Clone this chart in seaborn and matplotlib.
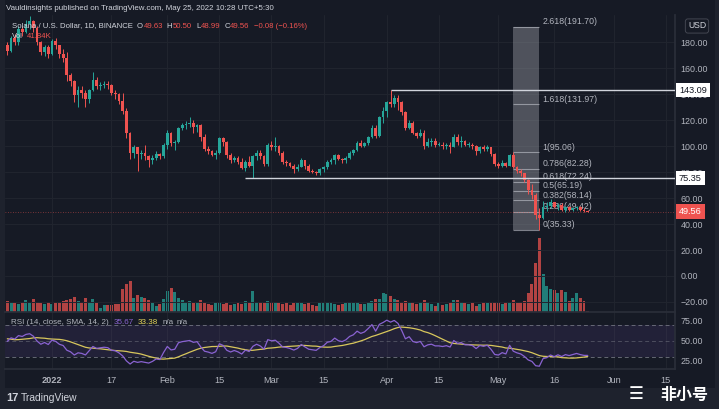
import matplotlib
matplotlib.use("Agg")
import matplotlib.pyplot as plt
import matplotlib.transforms as mtransforms
import numpy as np
import pandas as pd
import seaborn as sns

W, H = 719, 409

# ---- SOL/USD daily candles (Binance) ----
dates = pd.date_range("2021-12-20", "2022-05-25", freq="D")

# closes before the visible window, only used to warm up the RSI
warmup_closes = [219, 229, 215, 217, 195, 197, 205, 213, 209, 232,
                 229, 219, 206, 198, 196, 194, 197, 183, 172, 180,
                 176, 157, 163, 176, 176, 184, 187, 178]

close_dec = [173, 183, 180, 190, 188, 194, 196, 191, 180, 172, 176, 171]
high_dec = [180, 185, 186, 192, 192, 197, 200, 197, 192, 181, 178, 178]
low_dec = [170, 172, 178, 178, 185, 187, 190, 188, 178, 170, 169, 168]

close_jan = [181, 178, 171, 168, 155, 150, 139, 143, 141, 136,
             143, 151, 146, 147, 148, 147, 141, 140, 135, 127,
             110, 95, 99, 94, 95, 92, 89, 91, 94, 92, 101]
high_jan = [182, 183, 178, 175, 172, 156, 151, 146, 146, 143,
            144, 157, 153, 149, 150, 150, 148, 143, 141, 141,
            129, 111, 101, 99, 97, 101, 93, 93, 96, 95, 102]
low_jan = [170, 175, 168, 165, 150, 146, 134, 130, 137, 130,
           133, 142, 144, 143, 145, 144, 139, 136, 132, 125,
           106, 90, 91, 81, 90, 89, 84, 86, 89, 90, 91]

close_feb = [110, 102, 103, 114, 116, 117, 118, 115, 116, 107,
             98, 96, 93, 95, 106, 103, 93, 89, 91, 88,
             83, 88, 85, 92, 95, 92, 86, 101]
high_feb = [112, 111, 105, 115, 118, 119, 122, 120, 117, 117,
            109, 100, 97, 97, 107, 107, 104, 95, 92, 92,
            91, 89, 92, 93, 97, 97, 93, 102]
low_feb = [98, 100, 97, 102, 112, 113, 115, 110, 111, 104,
           96, 94, 92, 90, 94, 100, 91, 87, 88, 86,
           82, 81, 84, 75.4, 89, 90, 85, 85]

close_mar = [99, 100, 95, 88, 87, 85, 82, 84, 89, 85,
             81, 80, 79, 82, 84, 88, 89, 93, 90, 89,
             91, 95, 97, 102, 100, 102, 107, 114, 108, 122, 127]
high_mar = [104, 107, 101, 96, 89, 88, 86, 86, 91, 89,
            86, 82, 81, 83, 85, 89, 91, 94, 94, 91,
            92, 96, 98, 104, 105, 103, 108, 116, 116, 123, 130]
low_mar = [97, 96, 93, 86, 85, 84, 79, 81, 84, 82,
           80, 79, 78, 78, 80, 82, 86, 86, 89, 87,
           87, 90, 93, 96, 99, 99, 101, 106, 106, 107, 118]

close_apr = [134, 132, 137, 134, 126, 114, 118, 110, 108, 110,
             100, 103, 104, 101, 101, 100, 101, 99, 107, 103,
             104, 101, 101, 100, 96, 99, 98, 99, 94, 86]
high_apr = [135, 143.09, 139, 139, 135, 127, 120, 119, 111, 113,
            112, 106, 106, 106, 103, 103, 102, 103, 109, 109,
            108, 105, 103, 102, 101, 100, 101, 101, 99, 95]
low_apr = [122, 130, 130, 128, 124, 112, 113, 109, 106, 107,
           98, 99, 100, 99, 100, 98, 98, 95, 99, 101,
           99, 100, 99, 98, 93, 95, 96, 96, 92, 85]

close_may = [85, 87, 85, 93, 84, 81, 79, 74, 66, 62,
             47, 45, 53, 54, 57, 53, 55, 51, 53, 51,
             52, 53, 51, 49.63, 49.56]
high_may = [88, 89, 88, 94, 95.06, 85, 82, 79, 75, 71,
            64, 52, 58, 57, 59, 57, 56, 56, 54, 54,
            53, 54, 54, 52, 50.50]
low_may = [83, 84, 84, 85, 83, 79, 77, 72, 63, 59,
           44, 35.33, 44, 50, 52, 52, 51, 50, 49, 50,
           50, 51, 50, 49, 48.99]

# volume in thousands of SOL
vol_dec = [330, 270, 270, 240, 300, 360, 270, 390, 300, 270, 240, 300]
vol_jan = [240, 270, 300, 330, 360, 390, 450, 330, 300, 420,
           300, 390, 270, 120, 210, 210, 210, 240, 240, 690,
           840, 930, 420, 510, 450, 420, 360, 270, 180, 240, 390]
vol_feb = [630, 720, 600, 420, 360, 300, 330, 270, 300, 360,
           270, 240, 210, 270, 300, 240, 270, 210, 240, 270,
           240, 330, 300, 630, 300, 300, 270, 330]
vol_mar = [300, 300, 270, 240, 270, 210, 270, 300, 270, 240,
           270, 210, 180, 270, 270, 300, 270, 240, 210, 240,
           270, 300, 270, 300, 240, 240, 300, 330, 390, 390, 570]
vol_apr = [540, 480, 390, 360, 300, 330, 270, 300, 240, 270,
           360, 300, 240, 180, 270, 210, 240, 270, 360, 360,
           300, 270, 240, 270, 180, 240, 300, 270, 270, 300]
vol_may = [270, 240, 300, 300, 360, 270, 300, 330, 570, 840,
           1470, 2220, 1140, 780, 690, 660, 570, 660, 600, 330,
           420, 570, 420, 330, 41.84]

# Fibonacci extension drawn from the May 5 high to the May 12 low
fib_ratio_labels = ["0", "0.236", "0.382", "0.5", "0.618", "0.786", "1", "1.618", "2.618"]
fib_prices = [35.33, 49.42, 58.14, 65.19, 72.24, 82.28, 95.06, 131.97, 191.70]
fib_start, fib_end = pd.Timestamp("2022-05-05"), pd.Timestamp("2022-05-12")

level_prices = [143.09, 75.35]
level_starts = [pd.Timestamp("2022-04-02"), pd.Timestamp("2022-02-22")]
last_price = 49.56

price_ticks = [180, 160, 140, 120, 100, 80, 60, 40, 20, 0, -20]
rsi_ticks = [75, 50, 25]
x_tick_dates = pd.to_datetime(["2022-01-01", "2022-01-17", "2022-02-01", "2022-02-15",
                               "2022-03-01", "2022-03-15", "2022-04-01", "2022-04-15",
                               "2022-05-01", "2022-05-16", "2022-06-01", "2022-06-15"])
x_tick_labels = ["2022", "17", "Feb", "15", "Mar", "15", "Apr", "15", "May", "16", "Jun", "15"]

# ---- assemble ----
closes = np.array(close_dec + close_jan + close_feb + close_mar + close_apr + close_may, float)
highs = np.array(high_dec + high_jan + high_feb + high_mar + high_apr + high_may, float)
lows = np.array(low_dec + low_jan + low_feb + low_mar + low_apr + low_may, float)
volume = np.array(vol_dec + vol_jan + vol_feb + vol_mar + vol_apr + vol_may, float)
opens = np.array([warmup_closes[-1]] + list(closes[:-1]))  # crypto: open = prior close

all_closes = pd.Series(warmup_closes + list(closes))
delta = all_closes.diff()
gain = delta.clip(lower=0).ewm(alpha=1 / 14, adjust=False).mean()
loss = (-delta.clip(upper=0)).ewm(alpha=1 / 14, adjust=False).mean()
rsi = 100 - 100 / (1 + gain / loss)
rsi_sma = rsi.rolling(14).mean()
n_warm = len(warmup_closes)
rsi_df = pd.DataFrame({"date": dates, "rsi": rsi.values[n_warm:], "sma": rsi_sma.values[n_warm:]})

UP, DOWN = "#26a69a", "#ef5350"
BG, FRAME = "#161a25", "#1e222d"
TXT = "#b2b5be"
LIGHT = "#d1d4dc"
GRID = "#21252f"

sns.set_theme(style="dark", rc={"axes.facecolor": BG, "figure.facecolor": FRAME,
                                "text.color": TXT, "xtick.color": TXT, "ytick.color": TXT,
                                "axes.edgecolor": "#2a2e39"})
plt.rcParams["font.family"] = ["Liberation Sans", "DejaVu Sans"]

fig = plt.figure(figsize=(W / 100, H / 100), dpi=100)


def px(x, y):
    return x / W, 1 - y / H


def rect(x0, y0, x1, y1):
    return [x0 / W, 1 - y1 / H, (x1 - x0) / W, (y1 - y0) / H]


def text_run(pieces, x0, y, size):
    # lay out coloured text pieces one after another, like the TradingView legends
    renderer = fig.canvas.get_renderer()
    x = x0
    for t, c, gap in pieces:
        txt = fig.text(*px(x, y), t, fontsize=size, color=c, va="center", zorder=20)
        x += txt.get_window_extent(renderer).width + gap


bg = fig.add_axes(rect(5, 0, 715, 388))
bg.set_zorder(-10)
bg.set_facecolor(BG)
bg.set_xticks([])
bg.set_yticks([])
for s in bg.spines.values():
    s.set_visible(False)

ax = fig.add_axes(rect(5, 15, 675, 312))
ax_rsi = fig.add_axes(rect(5, 312, 675, 369), sharex=ax)

xlim = (pd.Timestamp("2021-12-19 09:00"), pd.Timestamp("2022-06-17 11:00"))

# volume overlay
ax_vol = ax.twinx()
ax_vol.set_zorder(ax.get_zorder() - 1)
ax.patch.set_visible(False)
ax_vol.patch.set_visible(False)
up = closes >= opens
colors = np.where(up, UP, DOWN)
ax_vol.bar(dates, volume, width=0.8, color=colors, alpha=0.72, linewidth=0)
ax_vol.set_ylim(0, volume.max() * 4.0)
ax_vol.set_yticks([])
ax_vol.grid(False)
for s in ax_vol.spines.values():
    s.set_visible(False)

# grid
ax.set_xticks(x_tick_dates)
ax.set_yticks(price_ticks)
ax.grid(True, color=GRID, lw=0.7)
ax.tick_params(axis="x", labelbottom=False, length=0)
ax.yaxis.tick_right()
ax.tick_params(axis="y", length=0, pad=4, labelsize=6.4, labelcolor=TXT)
ax.set_yticklabels([f"{v:.2f}".replace("-", "\u2212") for v in price_ticks])
ax.set_ylim(-27.7, 200.8)
ax.set_xlim(*xlim)

# fib tool
ax.fill_between([fib_start, fib_end], fib_prices[0], fib_prices[-1],
                color="#9598a1", alpha=0.45, lw=0, zorder=1)
ax.hlines(fib_prices, fib_start, fib_end, colors="#c3c6ce", lw=0.8, alpha=0.6, zorder=2)
for lab, p in zip(fib_ratio_labels, fib_prices):
    ax.text(fib_end + pd.Timedelta(hours=22), p + 0.6, f"{lab}({p:.2f})", fontsize=6.3,
            color=TXT, va="bottom", ha="left", zorder=2)

# horizontal levels + current price line
for p, start in zip(level_prices, level_starts):
    ax.hlines(p, start, xlim[1], colors=LIGHT, lw=1.0, zorder=5)
ax.axhline(last_price, color="#ef5350", ls=(0, (1, 2)), lw=0.6, alpha=0.6, zorder=2)

# candles
ax.vlines(dates, lows, highs, colors=colors, lw=0.7, zorder=3)
body = np.maximum(np.abs(closes - opens), 0.5)
ax.bar(dates, body, bottom=np.minimum(opens, closes), width=0.75, color=colors,
       linewidth=0, zorder=4)

ax.spines[["top", "left", "bottom"]].set_visible(False)
ax.spines["right"].set_color("#2a2e39")

# axis price boxes (they cover the nearby tick labels, as in TradingView)
blend = mtransforms.blended_transform_factory(ax.transAxes, ax.transData)
for p in level_prices:
    ax.text(1.0 + 4 / 670, p, f"{p:.2f}", transform=blend, ha="left", va="center",
            fontsize=6.6, color="#131722", zorder=10, clip_on=False,
            bbox=dict(boxstyle="square,pad=0.3", fc="white", ec="none"))
ax.text(1.0 + 4 / 670, last_price, f"{last_price:.2f}", transform=blend, ha="left",
        va="center", fontsize=6.6, color="white", zorder=10, clip_on=False,
        bbox=dict(boxstyle="square,pad=0.3", fc="#ef5350", ec="none"))
fig.text(*px(697, 26), "USD", fontsize=6.2, color=LIGHT, ha="center", va="center",
         bbox=dict(boxstyle="round,pad=0.3,rounding_size=0.3", fc=BG, ec="#434651", lw=0.7))

# RSI pane
ax_rsi.axhspan(30, 70, color="#7e57c2", alpha=0.12, lw=0)
for lvl, a in zip([70, 50, 30], [0.8, 0.5, 0.8]):
    ax_rsi.axhline(lvl, color="#787b86", ls=(0, (4, 3)), lw=0.7, alpha=a)
sns.lineplot(data=rsi_df, x="date", y="sma", ax=ax_rsi, color="#d8c75c", lw=0.9)
sns.lineplot(data=rsi_df, x="date", y="rsi", ax=ax_rsi, color="#8a63d2", lw=0.9)
ax_rsi.set_ylim(15, 86.25)
ax_rsi.set_xlim(*xlim)
ax_rsi.set_xlabel("")
ax_rsi.set_ylabel("")
ax_rsi.yaxis.tick_right()
ax_rsi.set_yticks(rsi_ticks)
ax_rsi.set_yticklabels([f"{v:.2f}" for v in rsi_ticks])
ax_rsi.tick_params(axis="y", length=0, pad=4, labelsize=6.4, labelcolor=TXT)
ax_rsi.set_xticks(x_tick_dates)
ax_rsi.set_xticklabels(x_tick_labels)
ax_rsi.tick_params(axis="x", length=0, pad=5, labelsize=6.6, labelcolor=TXT)
ax_rsi.get_xticklabels()[0].set_fontweight("bold")
ax_rsi.grid(True, axis="x", color=GRID, lw=0.7)
ax_rsi.grid(False, axis="y")
ax_rsi.spines["left"].set_visible(False)
for side in ["top", "bottom", "right"]:
    ax_rsi.spines[side].set_color("#2a2e39")

# header / legends
fig.text(*px(6, 9), "Vauldinsights published on TradingView.com, May 25, 2022 10:28 UTC+5:30",
         fontsize=5.7, color=LIGHT, va="center")
text_run([("Solana / U.S. Dollar, 1D, BINANCE", LIGHT, 4), ("O", LIGHT, 0.5), ("49.63", DOWN, 4),
          ("H", LIGHT, 0.5), ("50.50", DOWN, 4), ("L", LIGHT, 0.5), ("48.99", DOWN, 4),
          ("C", LIGHT, 0.5), ("49.56", DOWN, 4), ("\u22120.08 (\u22120.16%)", DOWN, 0)],
         12, 26, 5.6)
text_run([("Vol", LIGHT, 4), ("41.84K", DOWN, 0)], 12, 37, 5.6)
text_run([("RSI (14, close, SMA, 14, 2)", TXT, 5), ("35.67", "#8a63d2", 4),
          ("33.38", "#e8d85a", 4), ("n/a", TXT, 3), ("n/a", TXT, 0)], 11, 322, 5.8)

# footer
fig.text(*px(6, 398), "17", fontsize=8, fontweight="bold", color=LIGHT, va="center")
fig.text(*px(21, 398), "TradingView", fontsize=7.4, color=LIGHT, va="center")
fig.text(*px(636, 394), "\u2630", fontsize=12, color="white", ha="center", va="center",
         family=["DejaVu Sans"], zorder=30)
fig.text(*px(684, 395), "非小号", fontsize=11.5, fontweight="bold", color="white",
         ha="center", va="center", family=["Noto Sans CJK SC", "DejaVu Sans"], zorder=30)

fig.savefig("out.png", dpi=100, facecolor=FRAME)
